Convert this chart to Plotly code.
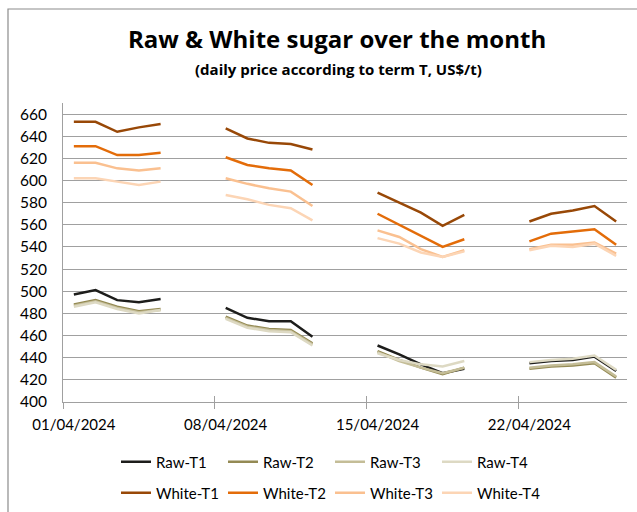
import pandas as pd
import plotly.graph_objects as go

dates = [
    "2024-04-01", "2024-04-02", "2024-04-03", "2024-04-04", "2024-04-05",
    "2024-04-08", "2024-04-09", "2024-04-10", "2024-04-11", "2024-04-12",
    "2024-04-15", "2024-04-16", "2024-04-17", "2024-04-18", "2024-04-19",
    "2024-04-22", "2024-04-23", "2024-04-24", "2024-04-25", "2024-04-26",
]

raw_t1 = [497, 501, 492, 490, 493, 485, 476, 473, 473, 459, 451, 443, 434, 426, 430, 435, 437, 438, 441, 428]
raw_t2 = [488, 492, 486, 482, 484, 477, 469, 466, 465, 453, 446, 438, 431, 425, 431, 430, 432, 433, 435, 422]
raw_t3 = [487, 491, 485, 481, 483, 476, 468, 465, 464, 452, 445, 437, 431, 426, 431, 431, 433, 434, 436, 423]
raw_t4 = [486, 490, 484, 480, 483, 475, 467, 464, 463, 451, 444, 438, 434, 432, 437, 436, 438, 439, 442, 429]

white_t1 = [653, 653, 644, 648, 651, 647, 638, 634, 633, 628, 589, 580, 571, 559, 569, 563, 570, 573, 577, 563]
white_t2 = [631, 631, 623, 623, 625, 621, 614, 611, 609, 596, 570, 560, 550, 540, 547, 545, 552, 554, 556, 542]
white_t3 = [616, 616, 611, 609, 611, 602, 597, 593, 590, 577, 555, 549, 538, 531, 537, 538, 542, 542, 544, 534]
white_t4 = [602, 602, 599, 596, 599, 587, 583, 578, 575, 564, 548, 543, 535, 531, 536, 537, 541, 540, 543, 532]

series_names = ["Raw-T1", "Raw-T2", "Raw-T3", "Raw-T4",
                "White-T1", "White-T2", "White-T3", "White-T4"]
series_values = [raw_t1, raw_t2, raw_t3, raw_t4, white_t1, white_t2, white_t3, white_t4]
series_colors = ["#1d1d1b", "#948a54", "#c4bd97", "#ddd9c3",
                 "#984807", "#e36c09", "#fac090", "#fcd5b5"]

tick_dates = ["2024-04-01", "2024-04-08", "2024-04-15", "2024-04-22"]
tick_labels = ["01/04/2024", "08/04/2024", "15/04/2024", "22/04/2024"]

FONT = "Lato"
TITLE_FONT = "Open Sans"

# Each date occupies a one-day slot; points and labels sit at the slot centre
d = pd.to_datetime(dates)
half_day = pd.Timedelta(hours=12)


def with_gaps(vals):
    xs, ys = [], []
    for i, (dt, v) in enumerate(zip(d, vals)):
        if i > 0 and (dt - d[i - 1]).days > 1:
            xs.append(d[i - 1] + pd.Timedelta(days=1) + half_day)
            ys.append(None)
        xs.append(dt + half_day)
        ys.append(v)
    return xs, ys


fig = go.Figure()
for i, (name, vals, col) in enumerate(zip(series_names, series_values, series_colors)):
    xs, ys = with_gaps(vals)
    fig.add_trace(go.Scatter(
        x=xs, y=ys, mode="lines", name=name,
        line=dict(color=col, width=2.5),
        connectgaps=False,
        legend="legend" if i < 4 else "legend2",
    ))

W, H = 637, 512
ml, mr, mt, mb = 63, 10, 103, 110
pw = W - ml - mr
ph = H - mt - mb


def px_x(p):
    return (p - ml) / pw


def px_y(p):
    return (H - mb - p) / ph


grid = "#a0a0a0"
x_range = [pd.Timestamp("2024-04-01"), pd.Timestamp("2024-04-27")]
tick_pos = pd.to_datetime(tick_dates)

legend_common = dict(
    orientation="h", x=px_x(116), xanchor="left", yanchor="middle",
    entrywidth=62, entrywidthmode="pixels",
    font=dict(family=FONT, size=15), bgcolor="rgba(0,0,0,0)",
)

fig.update_layout(
    width=W, height=H,
    margin=dict(l=ml, r=mr, t=mt, b=mb, autoexpand=False),
    paper_bgcolor="white", plot_bgcolor="white",
    font=dict(family=FONT, size=15, color="#000000"),
    showlegend=True,
    xaxis=dict(
        type="date", range=x_range,
        tickvals=tick_pos + half_day, ticktext=tick_labels,
        showgrid=False, showline=True, linecolor=grid, linewidth=1,
        ticks="outside", ticklen=6, tickcolor="rgba(0,0,0,0)",
        ticklabelstandoff=3,
        tickfont=dict(family=FONT, size=15),
        zeroline=False, automargin=False,
    ),
    xaxis2=dict(
        type="date", range=x_range, overlaying="x", anchor="y", side="bottom",
        tickvals=tick_pos, showticklabels=False,
        showgrid=False, showline=False, zeroline=False,
        ticks="outside", ticklen=6, tickcolor=grid, tickwidth=1,
    ),
    xaxis3=dict(
        type="date", range=x_range, overlaying="x", anchor="y", side="bottom",
        tickvals=tick_pos, showticklabels=False,
        showgrid=False, showline=False, zeroline=False,
        ticks="inside", ticklen=6, tickcolor=grid, tickwidth=1,
    ),
    yaxis=dict(
        range=[400, 670], tick0=400, dtick=20,
        showgrid=True, gridcolor=grid, gridwidth=1,
        showline=True, linecolor=grid, linewidth=1,
        ticks="", ticklabelstandoff=12,
        tickfont=dict(family=FONT, size=15.5),
        zeroline=False, automargin=False,
    ),
    legend=dict(y=px_y(462), **legend_common),
    legend2=dict(y=px_y(493), **legend_common),
    annotations=[
        dict(text="<b>Raw & White sugar over the month</b>", xref="paper", yref="paper",
             x=px_x(337), y=px_y(39), xanchor="center", yanchor="middle",
             showarrow=False, font=dict(family=TITLE_FONT, size=24)),
        dict(text="<b>(daily price according to term T, US$/t)</b>", xref="paper", yref="paper",
             x=px_x(338), y=px_y(69), xanchor="center", yanchor="middle",
             showarrow=False, font=dict(family=TITLE_FONT, size=15)),
    ],
    shapes=[
        dict(type="rect", xref="paper", yref="paper",
             x0=px_x(8), x1=px_x(660), y0=px_y(540), y1=px_y(9),
             line=dict(color="#8c8c8c", width=1.2), layer="below"),
    ],
)

# invisible helper traces so the tick-mark axes are drawn
fig.add_trace(go.Scatter(x=x_range, y=[None, None], xaxis="x2", showlegend=False, hoverinfo="skip"))
fig.add_trace(go.Scatter(x=x_range, y=[None, None], xaxis="x3", showlegend=False, hoverinfo="skip"))

fig.write_html("out.html", config={"displayModeBar": False},
               post_script="document.body.style.margin='0';")
